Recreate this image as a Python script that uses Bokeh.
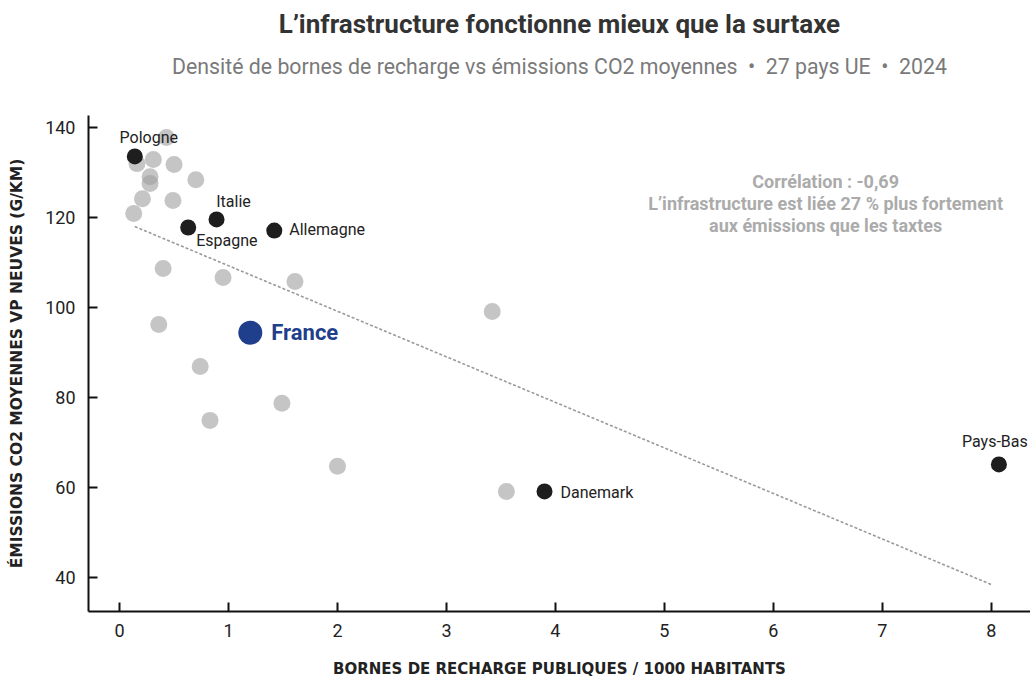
from bokeh.plotting import figure
from bokeh.models import Range1d, Title, Label, FixedTicker
from bokeh.embed import file_html
from bokeh.resources import INLINE

# ---------------- data ----------------
other_x = [0.43, 0.16, 0.31, 0.50, 0.28, 0.28, 0.70, 0.21, 0.49, 0.13,
           0.40, 0.95, 1.61, 0.36, 3.42, 0.74, 1.49, 0.83, 2.00, 3.55]
other_y = [137.8, 132.0, 132.9, 131.8, 129.1, 127.6, 128.4, 124.2, 123.8, 120.9,
           108.7, 106.7, 105.8, 96.2, 99.1, 86.9, 78.7, 74.9, 64.7, 59.1]

hl_names = ["Pologne", "Italie", "Espagne", "Allemagne", "Danemark", "Pays-Bas"]
hl_x = [0.14, 0.89, 0.63, 1.42, 3.90, 8.07]
hl_y = [133.6, 119.6, 117.8, 117.1, 59.1, 65.1]

france_name = "France"
france_x = [1.20]
france_y = [94.4]

trend_x = [0.14, 8.0]
trend_y = [118.0, 38.4]

x_ticks = [0, 1, 2, 3, 4, 5, 6, 7, 8]
y_ticks = [40, 60, 80, 100, 120, 140]

title_text = "L\u2019infrastructure fonctionne mieux que la surtaxe"
subtitle_text = ("Densit\u00e9 de bornes de recharge vs \u00e9missions CO2 moyennes"
                 "\u00a0\u00a0\u2022\u00a0\u00a027 pays UE\u00a0\u00a0\u2022\u00a0\u00a02024")
note_lines = ["Corr\u00e9lation : -0,69",
              "L\u2019infrastructure est li\u00e9e 27 % plus fortement",
              "aux \u00e9missions que les taxtes"]
x_label = "BORNES DE RECHARGE PUBLIQUES / 1000 HABITANTS"
y_label = "\u00c9MISSIONS CO2 MOYENNES VP NEUVES (G/KM)"

# ---------------- styles ----------------
label_style = {
    "Pologne":   dict(x_offset=14, y_offset=19, text_align="center"),
    "Italie":    dict(x_offset=17, y_offset=18, text_align="center"),
    "Espagne":   dict(x_offset=8, y_offset=-13, text_align="left"),
    "Allemagne": dict(x_offset=15, y_offset=1, text_align="left"),
    "Danemark":  dict(x_offset=16, y_offset=-1, text_align="left"),
    "Pays-Bas":  dict(x_offset=-4, y_offset=23, text_align="center"),
}

p = figure(width=1030, height=682, output_backend="svg", toolbar_location=None,
           x_range=Range1d(-0.285, 8.36), y_range=Range1d(32.4, 142.7),
           min_border_left=88, min_border_right=0, min_border_bottom=71,
           min_border_top=20)
p.title.text = ""

spacer = Title(text=" ", align="center", text_font="Roboto",
               text_font_size="1px", standoff=26)
sub = Title(text=subtitle_text, align="center", text_font="Roboto",
            text_font_size="21.3px", text_font_style="normal", text_color="#7a7a7a",
            standoff=15)
main = Title(text=title_text, align="center", text_font="Roboto",
             text_font_size="26px", text_font_style="bold", text_color="#333333",
             standoff=12)
p.add_layout(spacer, "above")
p.add_layout(sub, "above")
p.add_layout(main, "above")

p.outline_line_color = None
p.xgrid.grid_line_color = None
p.ygrid.grid_line_color = None
p.background_fill_color = "white"
p.border_fill_color = "white"

for ax in (p.xaxis[0], p.yaxis[0]):
    ax.axis_line_width = 2
    ax.axis_line_color = "#111111"
    ax.major_tick_in = 9
    ax.major_tick_out = 0
    ax.major_tick_line_width = 2
    ax.major_tick_line_color = "#111111"
    ax.minor_tick_line_color = None
    ax.major_label_text_font = "Roboto"
    ax.major_label_text_font_size = "18px"
    ax.major_label_text_color = "#222222"
    ax.axis_label_text_font = "DejaVu Sans"
    ax.axis_label_text_font_style = "bold"
    ax.axis_label_text_color = "#222222"

p.xaxis[0].axis_label_text_font_size = "15px"
p.yaxis[0].axis_label_text_font_size = "15.5px"
p.xaxis[0].ticker = FixedTicker(ticks=x_ticks)
p.yaxis[0].ticker = FixedTicker(ticks=y_ticks)
p.xaxis[0].axis_label = x_label
p.yaxis[0].axis_label = y_label
p.xaxis[0].major_label_standoff = 12
p.xaxis[0].axis_label_standoff = 20
p.yaxis[0].major_label_standoff = 13
p.yaxis[0].axis_label_standoff = 16

# trend line
p.line(trend_x, trend_y, line_color="#9a9a9a", line_width=1.6, line_dash="3 2")

# other countries
p.scatter(other_x, other_y, size=17, fill_color="#9e9e9e", fill_alpha=0.6,
          line_color=None)

# highlighted countries
p.scatter(hl_x, hl_y, size=16, fill_color="#1e1e1e", line_color=None)

# France
p.scatter(france_x, france_y, size=24, fill_color="#1f3f8c", line_color=None)

for name, x, y in zip(hl_names, hl_x, hl_y):
    st = label_style[name]
    p.add_layout(Label(x=x, y=y, text=name, text_font="Roboto",
                       text_font_size="16px", text_color="#222222",
                       text_baseline="middle", **st))

p.add_layout(Label(x=france_x[0], y=france_y[0], text=france_name,
                   text_font="Roboto", text_font_size="22px",
                   text_font_style="bold", text_color="#1f3f8c",
                   text_align="left", text_baseline="middle",
                   x_offset=21, y_offset=0))

for i, line in enumerate(note_lines):
    p.add_layout(Label(x=6.48, y=128.0, text=line, text_font="Roboto",
                       text_font_size="18px", text_font_style="bold",
                       text_color="#ababab", text_align="center",
                       text_baseline="middle", y_offset=-22 * i))

open("out.html", "w").write(file_html(p, INLINE))
